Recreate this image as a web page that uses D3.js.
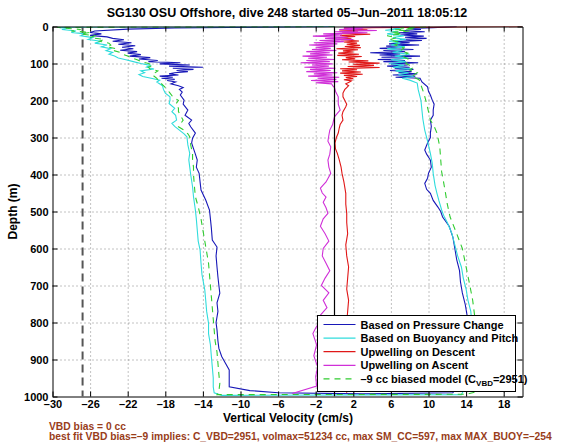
<!DOCTYPE html>
<html><head><meta charset="utf-8">
<script src="https://cdn.jsdelivr.net/npm/d3@7"></script>
<style>
body{margin:0;background:#fff;}
text{font-family:"Liberation Sans",Arial,sans-serif;}
</style></head>
<body><svg id="c" width="568" height="442"></svg>
<script>
// ---------- data ----------
const titleText = "SG130 OSU Offshore, dive 248 started 05\u2013Jun\u20132011 18:05:12";
const xTicks = [-30,-26,-22,-18,-14,-10,-6,-2,2,6,10,14,18];
const yTicks = [0,100,200,300,400,500,600,700,800,900,1000];
const vbdLine = -26.8;

// Based on Pressure Change (descent then ascent)
const pressureDepth = [0,4,7,12,16,20,24,28,32,36,40,44,48,52,56,60,64,68,72,76,80,84,88,92,95,98,101,104,107,110,113,116,119,122,125,128,131,134,137,140,143,146,150,155,160,165,170,177,185,199,210,226,240,253,262,271,288,302,315,330,345,361,380,397,420,442,469,496,520,545,577,596,620,650,677,700,721,747,770,800,820,850,870,892,910,928,950,974,984,990,993,
  990,960,930,900,870,840,810,780,750,720,690,660,630,600,570,540,515,500,488,470,451,440,424,410,397,380,361,345,334,315,300,288,270,253,240,226,210,199,185,175,163,150,
  140,137,134,131,128,125,122,119,116,113,110,107,104,101,98,95,92,89,86,83,80,77,74,71,68,65,62,59,56,53,50,47,44,41,38,35,32,29,26,23,20,17,14,11,8,5,3,1,0];
const pressureVel = [0,-17,-22,-25.5,-26,-24.8,-26,-24.2,-23.6,-22.4,-23.6,-21.6,-23,-21.2,-22.6,-21.4,-22.8,-21,-22,-20.6,-21.8,-19.6,-20.8,-18.8,-19.8,-16.4,-18.6,-15.4,-17.6,-14,-17.2,-15,-16.8,-15.6,-17,-17.6,-16.6,-18.6,-17.2,-18.4,-17,-17.8,-16.9,-17.4,-16.6,-16.1,-16.5,-16.2,-16.4,-16.0,-16.1,-15.6,-15.9,-15.2,-15.5,-15.3,-14.8,-15.1,-15.2,-15.0,-14.8,-14.6,-14.7,-14.4,-14.3,-14.2,-13.7,-13.3,-13.2,-13.1,-13.0,-12.5,-12.6,-12.5,-12.4,-12.3,-12.2,-12.5,-12.4,-12.6,-12.5,-12.4,-12.3,-12.0,-11.6,-11.2,-11.2,-11.2,-9,-6,3,
  12.6,13.2,13.6,14.0,14.3,14.2,14.0,14.1,13.9,13.6,13.4,13.3,13.0,12.8,12.6,12.2,11.5,11.3,11.0,10.5,10.2,9.8,9.6,9.9,10.0,10.3,10.2,9.8,9.6,9.9,10.2,10.2,10.3,10.2,10.5,10.5,10.6,10.4,10.2,10.0,9.9,9.3,
  9.1,6.5,8.6,6.2,8.8,6.8,8.2,5.9,8.4,6.4,8.0,5.6,7.8,6.0,8.9,5.2,7.5,4.6,8.2,5.0,9.1,4.8,7.0,3.8,7.5,5.2,8.4,4.8,7.2,5.5,9.0,5.8,8.0,6.5,9.3,7.0,9.8,7.5,9.5,7.0,8.8,6.8,9.6,7.4,9.2,8.0,10.5,12,13];

// Based on Buoyancy and Pitch
const buoyDepth = [0,2,5,8,12,16,20,25,30,35,40,45,50,55,60,65,70,75,80,85,90,95,100,105,110,115,120,125,130,135,140,145,150,160,170,180,190,200,208,221,230,240,253,262,270,280,290,298,320,343,360,380,400,433,460,496,520,550,580,604,640,670,712,740,770,802,830,860,892,920,950,974,990,997,
  995,960,920,880,840,800,770,740,710,680,650,620,590,560,530,510,496,470,451,430,397,370,343,310,280,250,226,200,190,170,153,
  145,140,135,130,125,120,115,110,105,100,95,90,85,80,75,70,65,60,55,50,45,40,35,30,25,20,15,10,6,3,1];
const buoyVel = [0,-29.5,-28.5,-29,-27.5,-28,-26.5,-27,-25.7,-26.2,-24.8,-25.5,-24.2,-24.8,-23.8,-24.3,-23.6,-24,-23.4,-23,-22.2,-21.4,-20.6,-19.6,-20,-19.2,-20.6,-20.2,-20.8,-20.4,-19.5,-18.6,-18.9,-18.3,-18.2,-18.0,-17.5,-17.5,-17.6,-17,-17.3,-16.9,-16.8,-17.3,-17.0,-16.5,-16,-15.7,-15.6,-15.4,-15.5,-15.4,-15.3,-15.1,-15,-14.8,-14.7,-14.6,-14.5,-14.3,-14.2,-14.1,-13.8,-13.7,-13.6,-13.4,-13.4,-13.2,-13.1,-13.0,-12.9,-12.9,-12.8,-12,
  13.5,14.2,14.6,14.8,14.8,14.6,14.5,14.2,14.0,13.7,13.5,13.1,12.8,12.5,12.0,11.6,11.4,11.1,10.9,10.7,10.5,10.4,10.2,9.9,9.6,9.4,9.3,9.2,9.1,8.9,8.8,
  8.0,7.2,8.4,6.8,7.9,6.5,8.2,6.2,7.4,5.8,7.6,6.0,7.8,6.4,8.0,6.2,7.2,5.6,7.5,6.0,7.0,5.8,7.6,6.2,7.4,5.6,6.8,5.4,7.0,6.0,5.0];

// Upwelling on Descent
const upDescDepth = [0,1,3,6,9,12,15,18,21,24,27,30,33,36,39,42,45,48,51,54,57,60,63,66,69,72,75,78,81,84,87,90,93,96,99,102,105,108,111,114,117,120,123,126,129,132,135,138,141,144,147,150,155,160,165,170,180,190,200,210,217,230,240,253,265,275,288,300,315,330,343,360,380,397,420,451,480,505,530,560,590,620,650,680,710,740,770,800,840,880,920,960,990];
const upDescVel = [20,13,4,1,3.5,0.5,2.5,0.8,3.8,0.6,2.2,0.4,1.8,0.7,2.6,1.0,2.4,1.3,2.7,1.1,2.8,0.2,2.5,0.9,2.0,0.4,2.6,0.3,2.9,1.2,2.2,0.8,3.6,1.5,4.8,2.0,4.2,1.4,4.8,0.6,2.4,0.8,2.8,0.6,3.0,1.0,2.4,1.2,2.0,1.0,1.8,1.6,1.2,1.5,1.3,1.1,0.9,0.9,1.1,1.3,1.2,0.9,0.8,0.9,0.6,0.5,0.4,0.2,0.05,0.1,0.3,0.5,0.7,0.8,1.0,1.2,1.2,1.3,1.3,1.4,1.2,1.3,1.5,1.4,1.3,1.5,1.4,1.3,1.2,1.4,1.3,1.2,1.3];

// Upwelling on Ascent
const upAscDepth = [992,972,947,920,890,860,830,815,790,780,760,740,720,700,680,660,640,620,600,580,560,540,520,505,490,475,461,450,437,420,397,380,361,345,325,310,294,280,265,254,244,235,226,210,190,175,165,160,
  155,152,149,146,143,140,137,134,131,128,125,122,119,116,113,110,107,104,101,98,95,92,89,86,83,80,77,74,71,68,65,62,59,56,53,50,47,44,41,38,35,32,29,26,23,20,17,14,11,8,5,3,1,0];
const upAscVel = [-4.5,-1.9,-2.0,-1.8,-2.2,-1.9,-2.3,-2.0,-1.4,-1.5,-0.8,-1.2,-0.6,-1.4,-1.0,-0.5,-0.9,-1.3,-1.2,-0.6,-1.0,-1.5,-1.2,-0.7,-0.9,-1.2,-0.9,-1.3,-1.5,-0.9,-0.4,-0.6,-0.7,-0.5,-0.4,-0.7,-0.6,-0.5,-0.2,-0.1,0.0,0.3,0.6,0.4,0.4,0.1,0.0,-0.2,
  -0.3,-2.0,0.4,-2.5,0.2,-1.8,0.5,-2.8,-0.2,-2.2,0.3,-3.0,-0.4,-2.6,0.1,-3.2,-0.6,-2.4,-0.2,-3.6,-0.5,-3.0,0.0,-2.8,-0.8,-3.4,-0.2,-2.6,-0.5,-3.0,0.2,-2.4,-0.4,-2.0,0.0,-2.7,0.3,-2.2,1.0,-1.6,2.0,-1.0,1.4,-2.3,0.8,-1.2,3.5,0.0,4.5,0.5,3.0,1.0,5.0,8];

// -9 cc biased model
const modelDepth = [0,2,4,8,12,16,20,25,30,35,40,45,50,55,60,65,70,75,80,85,90,95,100,105,110,115,120,130,140,150,160,170,180,190,200,210,221,230,240,253,260,271,280,290,298,320,343,360,380,400,433,460,487,520,550,580,610,640,670,700,730,760,790,820,850,880,910,940,965,985,995,
  994,985,950,900,850,800,780,740,700,650,600,560,515,480,449,420,393,360,325,288,270,253,230,208,180,
  144,135,125,118,110,100,90,80,72,65,58,50,43,36,30,25,20,16,12,9,6,4,2,1];
const modelVel = [0,-29.5,-29,-27,-28,-26,-27,-25.5,-26,-24.5,-25,-24,-23.8,-24.2,-23.2,-23.5,-22.8,-22.5,-22,-21.6,-21,-20.5,-19.8,-19.3,-19.8,-19.6,-18.8,-19.4,-18.9,-18.6,-18.2,-17.8,-17.5,-17.2,-16.6,-16.9,-16.6,-16.6,-16.4,-16.1,-16.3,-16.6,-16.0,-15.6,-15.4,-15.3,-15.1,-15.1,-15.0,-15.0,-14.9,-14.8,-14.5,-14.2,-14.0,-13.8,-13.6,-13.4,-13.3,-13.2,-13.1,-13.0,-12.9,-12.8,-12.7,-12.5,-12.4,-12.3,-12.2,-12.3,-12.5,
  14,15.5,15.6,15.5,15.3,15.0,14.9,14.7,14.4,14.0,13.6,13.0,12.3,12.0,11.8,11.6,11.4,11.3,11.2,10.9,10.6,10.2,10.0,9.8,9.5,
  9.0,8.2,8.8,8.0,8.4,7.6,8.0,7.2,7.8,7.0,7.4,6.4,7.0,5.8,6.6,5.6,7.2,6.0,8.0,6.4,8.6,7.0,9.0,10];

const legendLabels = ["Based on Pressure Change","Based on Buoyancy and Pitch","Upwelling on Descent","Upwelling on Ascent"];
const noteLine1 = "VBD bias = 0 cc";
const noteLine2 = "best fit VBD bias=\u20139 implies: C_VBD=2951, volmax=51234 cc, max SM_CC=597, max MAX_BUOY=\u2013254";

// ---------- drawing ----------
const svg = d3.select("#c");
const L=52.5, R=522.5, T=26.5, B=396.5;
const x = d3.scaleLinear().domain([-30,20]).range([L,R]);
const y = d3.scaleLinear().domain([0,1000]).range([T,B]);
const fmt = d => d<0 ? "\u2013"+Math.abs(d) : String(d);

const series = [
  {d:pressureDepth, v:pressureVel, color:"#1818b8", dash:null},
  {d:buoyDepth, v:buoyVel, color:"#30dcdc", dash:null},
  {d:upDescDepth, v:upDescVel, color:"#e01818", dash:null},
  {d:upAscDepth, v:upAscVel, color:"#d030d8", dash:null},
  {d:modelDepth, v:modelVel, color:"#30cc30", dash:"6,5"}
];

// grid
const gx = svg.append("g").attr("transform",`translate(0,${B})`)
  .call(d3.axisBottom(x).tickValues(xTicks.filter(t=>t>-30)).tickSize(-(B-T)).tickFormat(""));
const gy = svg.append("g").attr("transform",`translate(${L},0)`)
  .call(d3.axisLeft(y).tickValues(yTicks.filter(t=>t>0&&t<1000)).tickSize(-(R-L)).tickFormat(""));
[gx,gy].forEach(g=>{g.select(".domain").remove();
  g.selectAll("line").attr("stroke","#666").attr("stroke-width",0.8).attr("stroke-dasharray","1,3");});

svg.append("defs").append("clipPath").attr("id","clip").append("rect")
  .attr("x",L).attr("y",T).attr("width",R-L).attr("height",B-T);
const plot = svg.append("g").attr("clip-path","url(#clip)");

plot.append("line").attr("x1",x(vbdLine)).attr("x2",x(vbdLine)).attr("y1",T).attr("y2",B)
  .attr("stroke","#555").attr("stroke-width",2).attr("stroke-dasharray","8,5");

const line = d3.line().x(p=>x(p[1])).y(p=>y(p[0]));
series.forEach(s=>{
  const pts = s.d.map((dd,i)=>[dd,s.v[i]]);
  plot.append("path").attr("d",line(pts)).attr("fill","none")
    .attr("stroke",s.color).attr("stroke-width",1.1)
    .attr("stroke-dasharray",s.dash);
});

plot.append("line").attr("x1",x(0)).attr("x2",x(0)).attr("y1",T).attr("y2",B)
  .attr("stroke","#000").attr("stroke-width",1.2);

// axes (ticks inside, on all four sides)
const axB = svg.append("g").attr("transform",`translate(0,${B})`)
  .call(d3.axisBottom(x).tickValues(xTicks).tickSizeInner(-5).tickSizeOuter(0).tickPadding(4).tickFormat(fmt));
const axT = svg.append("g").attr("transform",`translate(0,${T})`)
  .call(d3.axisTop(x).tickValues(xTicks).tickSizeInner(-5).tickSizeOuter(0).tickFormat(""));
const axL = svg.append("g").attr("transform",`translate(${L},0)`)
  .call(d3.axisLeft(y).tickValues(yTicks).tickSizeInner(-5).tickSizeOuter(0).tickPadding(4).tickFormat(fmt));
const axR = svg.append("g").attr("transform",`translate(${R},0)`)
  .call(d3.axisRight(y).tickValues(yTicks).tickSizeInner(-5).tickSizeOuter(0).tickFormat(""));
[axB,axT,axL,axR].forEach(g=>{
  g.select(".domain").attr("stroke","#000");
  g.selectAll("line").attr("stroke","#000");
  g.selectAll("text").attr("font-size","11px").attr("font-weight","bold").attr("fill","#000")
   .attr("font-family","'Liberation Sans',Arial,sans-serif");
});

// legend
const lg = svg.append("g");
const LX=317.5, LY=315.5, LW=198, LH=76;
lg.append("rect").attr("x",LX).attr("y",LY).attr("width",LW).attr("height",LH)
  .attr("fill","#fff").attr("stroke","#000").attr("stroke-width",1);
const legItems = series.map((s,i)=>({color:s.color, dash:s.dash, label:legendLabels[i]}));
legItems.forEach((it,i)=>{
  const yy = LY + 9 + i*13.6;
  lg.append("line").attr("x1",LX+6).attr("x2",LX+38).attr("y1",yy).attr("y2",yy)
    .attr("stroke",it.color).attr("stroke-width",1.2).attr("stroke-dasharray",it.dash);
  const t = lg.append("text").attr("x",LX+43).attr("y",yy+4).attr("font-size","11px")
    .attr("font-weight","bold").attr("fill","#000");
  if(i<4){ t.text(it.label); }
  else {
    t.append("tspan").text("\u20139 cc biased model (C");
    t.append("tspan").attr("font-size","8px").attr("dy",3).text("VBD");
    t.append("tspan").attr("dy",-3).text("=2951)");
  }
});

// title and labels
svg.append("text").attr("x",287).attr("y",17).attr("text-anchor","middle")
  .attr("font-size","12.5px").attr("font-weight","bold").text(titleText);
svg.append("text").attr("transform",`translate(17,${(T+B)/2}) rotate(-90)`).attr("text-anchor","middle")
  .attr("font-size","12px").attr("font-weight","bold").text("Depth (m)");
svg.append("text").attr("x",288).attr("y",422).attr("text-anchor","middle")
  .attr("font-size","12px").attr("font-weight","bold").text("Vertical Velocity (cm/s)");
svg.append("text").attr("x",49).attr("y",429.5).attr("font-size","10.3px").attr("font-weight","bold")
  .attr("fill","#993d1a").text(noteLine1);
svg.append("text").attr("x",49).attr("y",440).attr("font-size","10.3px").attr("font-weight","bold")
  .attr("fill","#993d1a").text(noteLine2);
</script></body></html>
